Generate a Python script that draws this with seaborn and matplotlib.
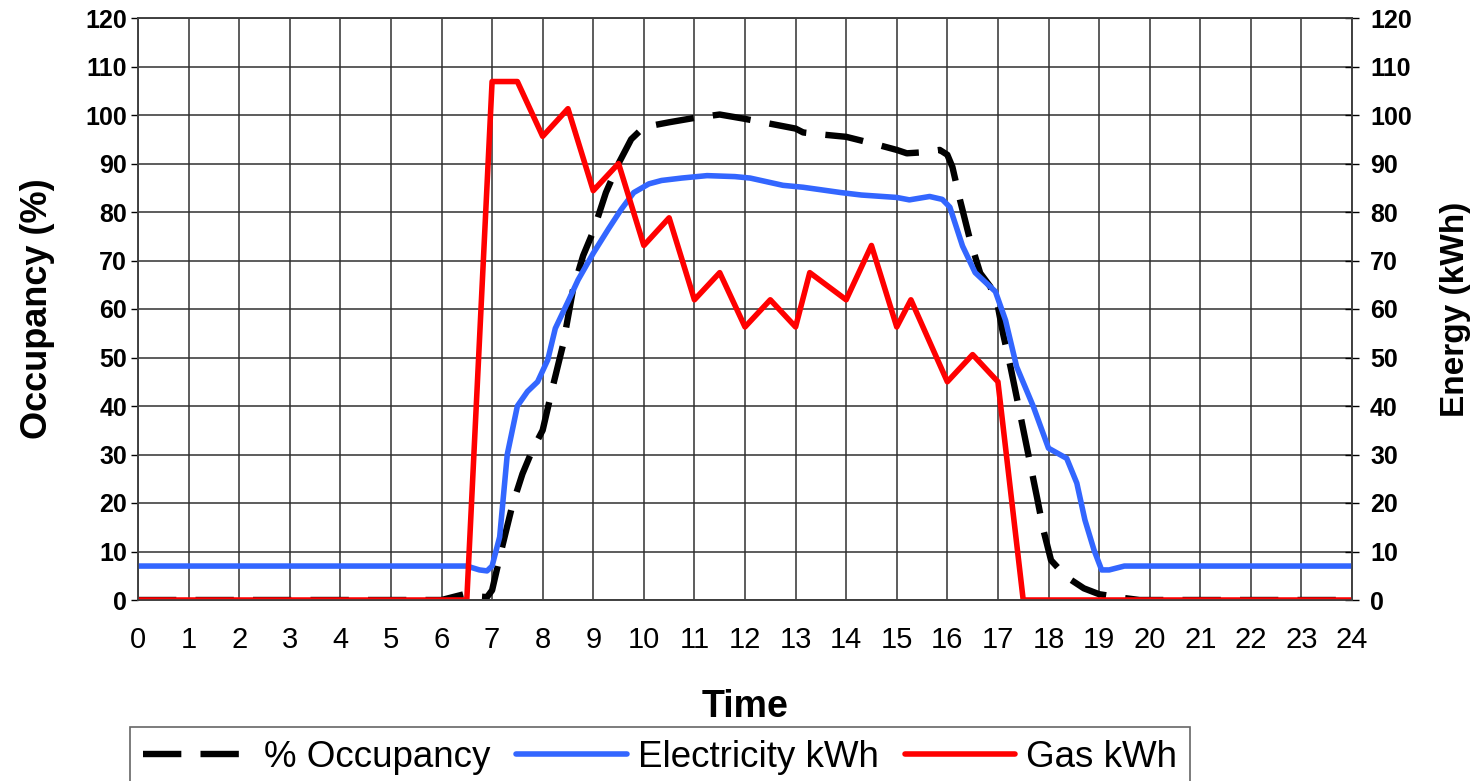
import matplotlib
matplotlib.use("Agg")
import matplotlib.pyplot as plt
import seaborn as sns

# Hourly profile (hour of day -> value)
occ_hours = [0, 6.0, 6.45, 6.6, 6.9, 7.0, 7.2, 7.4, 7.6, 7.8, 8.0, 8.2, 8.4, 8.6, 8.8,
             9.0, 9.25, 9.5, 9.75, 10.0, 10.25, 10.5, 11.0, 11.5, 12.0, 12.5, 13.0,
             13.15, 13.5, 14.0, 14.5, 15.0, 15.2, 15.5, 15.85, 16.0, 16.1, 16.25,
             16.45, 16.65, 16.85, 17.0, 17.1, 17.25, 17.45, 17.65, 17.77, 17.9,
             18.05, 18.35, 18.7, 19.0, 19.5, 19.8, 24]
occupancy = [0, 0, 1.2, 0.8, 0.6, 2, 11, 19.5, 26, 31, 35, 44, 52.5, 64, 71,
             76, 84, 90, 95, 97.5, 98, 98.5, 99.4, 100.1, 99.2, 98.2, 97.2,
             96.4, 96, 95.5, 94.2, 92.8, 92.1, 92.3, 92.8, 91.8, 89.3, 82.5,
             74.2, 67.4, 64.6, 60.5, 55, 48, 37.8, 27.5, 21.3, 14.4,
             8.2, 4.8, 2.4, 1.2, 0.4, 0, 0]

elec_hours = [0, 6.5, 6.75, 6.9, 7.0, 7.15, 7.3, 7.5, 7.7, 7.9, 8.1, 8.25, 8.5, 8.7,
              9.0, 9.3, 9.55, 9.8, 10.1, 10.35, 10.75, 11.25, 11.8, 12.1, 12.75,
              13.15, 13.9, 14.3, 15.0, 15.25, 15.65, 15.9, 16.05, 16.3, 16.55,
              16.95, 17.15, 17.37, 17.7, 18.0, 18.36, 18.56, 18.72, 18.9, 19.05,
              19.2, 19.5, 24]
electricity = [7, 7, 6.2, 6.0, 7, 13, 30, 40, 43, 45, 49.5, 56, 61.5, 66,
               71.5, 76.5, 80.5, 84, 85.8, 86.5, 87, 87.5, 87.3, 87, 85.5,
               85.1, 84.0, 83.5, 83.0, 82.5, 83.2, 82.6, 81, 73, 67.5,
               63.6, 57.7, 48.1, 39.9, 31.3, 29.2, 24.1, 16.5, 10.3, 6.2,
               6.2, 7, 7]

gas_hours = [0, 6.5, 7.0, 7.5, 8.0, 8.5, 9.0, 9.5, 10.0, 10.5, 11.0, 11.5, 12.0,
             12.5, 13.0, 13.28, 14.0, 14.5, 15.0, 15.28, 16.0, 16.5, 17.0, 17.5, 24]
gas = [0, 0, 106.9, 106.9, 95.6, 101.3, 84.4, 90, 73.1, 78.8, 61.9, 67.5, 56.3,
       61.9, 56.3, 67.5, 61.9, 73.1, 56.3, 61.9, 45, 50.6, 45, 0, 0]

x_ticks = list(range(0, 25))
y_ticks = list(range(0, 121, 10))

sns.set_style("white")
plt.rcParams['font.family'] = ['Liberation Sans', 'DejaVu Sans']
plt.rcParams.update({'text.color': 'black', 'axes.labelcolor': 'black',
                     'xtick.color': 'black', 'ytick.color': 'black'})

fig = plt.figure(figsize=(14.75, 7.81), dpi=100)
ax = fig.add_axes([138 / 1475, 1 - 600 / 781, (1352 - 138) / 1475, 582 / 781])
ax2 = ax.twinx()

sns.lineplot(x=occ_hours, y=occupancy, ax=ax, color='black', lw=4.6,
             linestyle=(0, (6, 3)), label='% Occupancy', legend=False)
sns.lineplot(x=elec_hours, y=electricity, ax=ax2, color='#3366FF', lw=4.0,
             label='Electricity kWh', legend=False, solid_joinstyle='round')
sns.lineplot(x=gas_hours, y=gas, ax=ax2, color='#FF0000', lw=4.0,
             label='Gas kWh', legend=False)

for a in (ax, ax2):
    a.set_xlim(0, 24)
    a.set_ylim(0, 120)
    a.set_yticks(y_ticks)
    for s in a.spines.values():
        s.set_color('#404040')
        s.set_linewidth(1.2)

ax.set_xticks(x_ticks)
ax.grid(True, color='#303030', lw=1.1)
ax.set_axisbelow(True)

ax.tick_params(axis='x', direction='out', length=7, width=1, pad=12, labelsize=21)
ax.tick_params(axis='y', direction='out', length=5, width=1, pad=3, labelsize=18)
ax2.tick_params(axis='y', direction='inout', length=10, width=1, pad=8, labelsize=18)
for lbl in ax.get_yticklabels() + ax2.get_yticklabels():
    lbl.set_fontweight('bold')

ax.set_xlabel('Time', fontsize=27, fontweight='bold', labelpad=25)
ax.set_ylabel('Occupancy (%)', fontsize=26, fontweight='bold', labelpad=22)
ax2.set_ylabel('Energy (kWh)', fontsize=24, fontweight='bold', labelpad=20)

handles = ax.get_lines()[:1] + ax2.get_lines()
labels = ['% Occupancy', 'Electricity kWh', 'Gas kWh']
leg = fig.legend(handles, labels, loc='upper left', bbox_to_anchor=(130 / 1475, 1 - 727 / 781),
                 ncol=3, fontsize=26.5, frameon=True, fancybox=False, handlelength=3.0,
                 handletextpad=0.3, columnspacing=0.7, borderpad=0.35, borderaxespad=0)
leg.get_frame().set_edgecolor('#404040')
leg.get_frame().set_linewidth(1.2)

plt.savefig('out.png', dpi=100)
